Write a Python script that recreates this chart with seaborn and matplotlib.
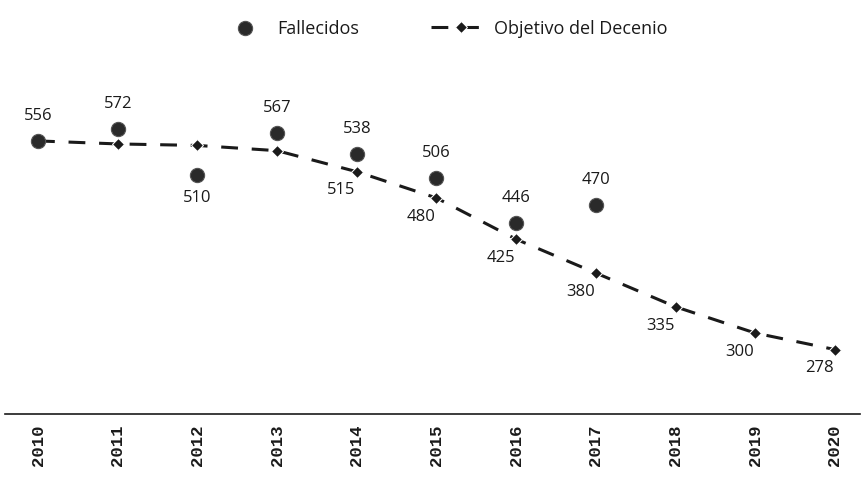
import matplotlib
matplotlib.use("Agg")
import matplotlib.pyplot as plt
import seaborn as sns
import pandas as pd

years = [2010, 2011, 2012, 2013, 2014, 2015, 2016, 2017, 2018, 2019, 2020]
fallecidos_years = [2010, 2011, 2012, 2013, 2014, 2015, 2016, 2017]
fallecidos = [556, 572, 510, 567, 538, 506, 446, 470]
objetivo = [556, 552, 550, 543, 515, 480, 425, 380, 335, 300, 278]
objetivo_labeled = [2014, 2015, 2016, 2017, 2018, 2019, 2020]
fall_below = [2012]

sns.set_theme(style="white")
plt.rcParams['font.family'] = ['Open Sans', 'DejaVu Sans']

df_f = pd.DataFrame({"year": fallecidos_years, "value": fallecidos})
df_o = pd.DataFrame({"year": years, "value": objetivo})

fig = plt.figure(figsize=(8.65, 4.81), dpi=100)
ax = fig.add_axes([0.0058, 0.137, 0.988, 0.738])

ink = "#1a1a1a"
sns.lineplot(data=df_o, x="year", y="value", ax=ax, color=ink, lw=2.2,
             marker="D", markersize=6, linestyle=(0, (5.5, 4.5)),
             label="Objetivo del Decenio", zorder=2)
sns.scatterplot(data=df_f, x="year", y="value", ax=ax, color="#2a2a2a",
                s=105, edgecolor="#555555", linewidth=0.8,
                label="Fallecidos", zorder=3)

for y, v in zip(fallecidos_years, fallecidos):
    if y in fall_below:
        ax.annotate(str(v), (y, v), xytext=(0, -10), textcoords="offset points",
                    ha="center", va="top", fontsize=12, color=ink)
    else:
        ax.annotate(str(v), (y, v), xytext=(0, 13), textcoords="offset points",
                    ha="center", va="bottom", fontsize=12, color=ink)

for y, v in zip(years, objetivo):
    if y in objetivo_labeled:
        ax.annotate(str(v), (y, v), xytext=(-11, -7), textcoords="offset points",
                    ha="center", va="top", fontsize=12, color=ink)

ax.set_xlim(2009.586, 2020.31)
ax.set_ylim(192, 665)
ax.set_xticks(years)
ax.set_xticklabels([str(y) for y in years], rotation=90,
                   fontfamily="Liberation Mono", fontweight="bold", fontsize=12.5,
                   color=ink)
ax.set_yticks([])
ax.set_xlabel("")
ax.set_ylabel("")
for s in ["top", "right", "left"]:
    ax.spines[s].set_visible(False)
ax.spines["bottom"].set_color(ink)
ax.spines["bottom"].set_linewidth(1.2)
ax.tick_params(axis="x", length=0, pad=7)

handles, labels = ax.get_legend_handles_labels()
order = [labels.index("Fallecidos"), labels.index("Objetivo del Decenio")]
leg = ax.legend([handles[i] for i in order], [labels[i] for i in order],
                loc="center", bbox_to_anchor=(0.51, 0.94), bbox_transform=fig.transFigure,
                ncol=2, frameon=False, fontsize=13, columnspacing=4,
                handlelength=3.3, handletextpad=0.15)
for t in leg.get_texts():
    t.set_color(ink)

fig.savefig("out.png", dpi=100)
